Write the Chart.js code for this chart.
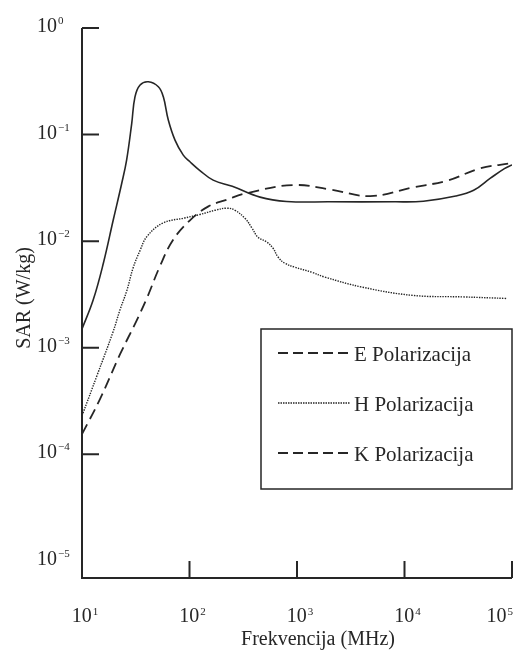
<!DOCTYPE html>
<html>
<head>
<meta charset="utf-8">
<script src="https://cdn.jsdelivr.net/npm/chart.js@4"></script>
<style>
  body { margin: 0; background: #fff; }
  #wrap { width: 513px; height: 650px; }
</style>
</head>
<body>
<div id="wrap"><canvas id="myChart" width="513" height="650"></canvas></div>
<script>
// frequency (MHz) / SAR (W/kg)
const freqE = [10, 12.7, 15.8, 19.5, 23.4, 26, 29, 31.1, 34.7, 41.4, 51.3, 57.1, 63.5, 73.3, 87.5, 101, 125, 166, 250, 453, 800, 2000, 8000, 15000, 30000, 44000, 63000, 85000, 100000];
const sarE = [0.0015, 0.0028, 0.0062, 0.0157, 0.0348, 0.0577, 0.127, 0.226, 0.292, 0.313, 0.281, 0.226, 0.137, 0.0888, 0.0642, 0.0556, 0.046, 0.0374, 0.0327, 0.0259, 0.0236, 0.0234, 0.0234, 0.0237, 0.0265, 0.03, 0.039, 0.048, 0.052];

const freqH = [10, 13.8, 19.4, 22.5, 26.2, 29.8, 34.7, 40.3, 56.6, 90, 125, 173, 223, 265, 328, 381, 433, 525, 598, 666, 773, 955, 1380, 1820, 4070, 12000, 35000, 90000];
const sarH = [0.00023, 0.00055, 0.0014, 0.00225, 0.00347, 0.00557, 0.0082, 0.0111, 0.0148, 0.0165, 0.0178, 0.0195, 0.0204, 0.0195, 0.0164, 0.0133, 0.0109, 0.0098, 0.0086, 0.0071, 0.0062, 0.0057, 0.0051, 0.0046, 0.0037, 0.0031, 0.003, 0.0029];

const freqK = [10, 14.7, 22.6, 32.3, 40, 53, 70, 101, 150, 222, 340, 910, 2040, 4800, 12000, 25000, 50000, 100000];
const sarK = [0.000155, 0.00033, 0.00087, 0.00181, 0.0029, 0.0058, 0.0102, 0.0157, 0.0212, 0.0245, 0.0282, 0.0336, 0.0305, 0.0265, 0.032, 0.037, 0.048, 0.054];

const seriesNames = ["E Polarizacija", "H Polarizacija", "K Polarizacija"];
// line style shown next to each name in the legend box (as printed)
const legendDash = [[10, 5], [1.5, 1], [10, 5]];

const xTickExp = [1, 2, 3, 4, 5];
const yTickExp = [0, -1, -2, -3, -4, -5];

const ink = "#262626";
const serif = "'Liberation Serif', 'DejaVu Serif', serif";

function pts(xs, ys) {
  return xs.map((v, i) => ({ x: v, y: ys[i] }));
}

function supText(n) {
  return n < 0 ? "\u2212" + Math.abs(n) : String(n);
}

// "10" with a small raised exponent
function drawPower(ctx, exp, x, baseline, align, raise) {
  ctx.font = "20px " + serif;
  const wBase = ctx.measureText("10").width;
  ctx.font = "11px " + serif;
  const wExp = ctx.measureText(supText(exp)).width;
  let left = x;
  if (align === "center") left = x - (wBase + 1 + wExp) / 2;
  if (left + wBase + 1 + wExp > 513) left = 513 - wBase - 1 - wExp;
  ctx.textAlign = "left";
  ctx.textBaseline = "alphabetic";
  ctx.font = "20px " + serif;
  ctx.fillText("10", left, baseline);
  ctx.font = "11px " + serif;
  ctx.fillText(supText(exp), left + wBase + 1, baseline - raise);
}

const axesPlugin = {
  id: "axesPlugin",
  afterDraw(chart) {
    const { ctx, chartArea: a } = chart;
    const xs = chart.scales.x, ys = chart.scales.y;
    ctx.save();
    ctx.strokeStyle = ink;
    ctx.fillStyle = ink;
    ctx.lineWidth = 2;
    ctx.setLineDash([]);
    ctx.beginPath();
    ctx.moveTo(a.left, a.top);
    ctx.lineTo(a.left, a.bottom);
    ctx.lineTo(a.right, a.bottom);
    // inward tick marks
    xTickExp.slice(1).forEach(e => {
      const px = xs.getPixelForValue(Math.pow(10, e));
      ctx.moveTo(px, a.bottom);
      ctx.lineTo(px, a.bottom - 17);
    });
    yTickExp.slice(0, -1).forEach(e => {
      const py = ys.getPixelForValue(Math.pow(10, e));
      ctx.moveTo(a.left, py);
      ctx.lineTo(a.left + 17, py);
    });
    ctx.stroke();

    xTickExp.forEach(e => {
      drawPower(ctx, e, xs.getPixelForValue(Math.pow(10, e)) + 3, 622, "center", 7);
    });
    yTickExp.forEach(e => {
      drawPower(ctx, e, 37, ys.getPixelForValue(Math.pow(10, e)) + 4, "left", 8);
    });

    // axis titles
    ctx.font = "20px " + serif;
    ctx.textAlign = "center";
    ctx.fillText("Frekvencija (MHz)", 318, 645);
    ctx.save();
    ctx.translate(30, 298);
    ctx.rotate(-Math.PI / 2);
    ctx.fillText("SAR (W/kg)", 0, 0);
    ctx.restore();

    // legend box
    ctx.lineWidth = 1.5;
    ctx.strokeRect(261, 329, 251, 160);
    chart.data.datasets.forEach((ds, i) => {
      const cy = 353 + i * 50;
      ctx.lineWidth = i === 1 ? 1.3 : 1.8;
      ctx.setLineDash(legendDash[i]);
      ctx.beginPath();
      ctx.moveTo(278, cy);
      ctx.lineTo(350, cy);
      ctx.stroke();
      ctx.setLineDash([]);
      ctx.font = "21px " + serif;
      ctx.textAlign = "left";
      ctx.fillText(ds.label, 354, cy + 8);
    });
    ctx.restore();
  }
};

const common = {
  borderColor: ink,
  pointRadius: 0,
  fill: false,
  tension: 0.4
};

new Chart(document.getElementById("myChart"), {
  type: "line",
  data: {
    datasets: [
      Object.assign({ label: seriesNames[0], data: pts(freqE, sarE), borderWidth: 1.6 }, common),
      Object.assign({ label: seriesNames[1], data: pts(freqH, sarH), borderWidth: 1.4, borderDash: [1.4, 1.2] }, common),
      Object.assign({ label: seriesNames[2], data: pts(freqK, sarK), borderWidth: 1.8, borderDash: [11, 6] }, common)
    ]
  },
  options: {
    responsive: false,
    animation: false,
    layout: { padding: { left: 82, top: 28, right: 1, bottom: 72 } },
    plugins: { legend: { display: false }, tooltip: { enabled: false } },
    scales: {
      x: { type: "logarithmic", min: 10, max: 100000, display: false },
      y: { type: "logarithmic", min: Math.pow(10, -5.16), max: 1, display: false }
    }
  },
  plugins: [axesPlugin]
});
</script>
</body>
</html>
